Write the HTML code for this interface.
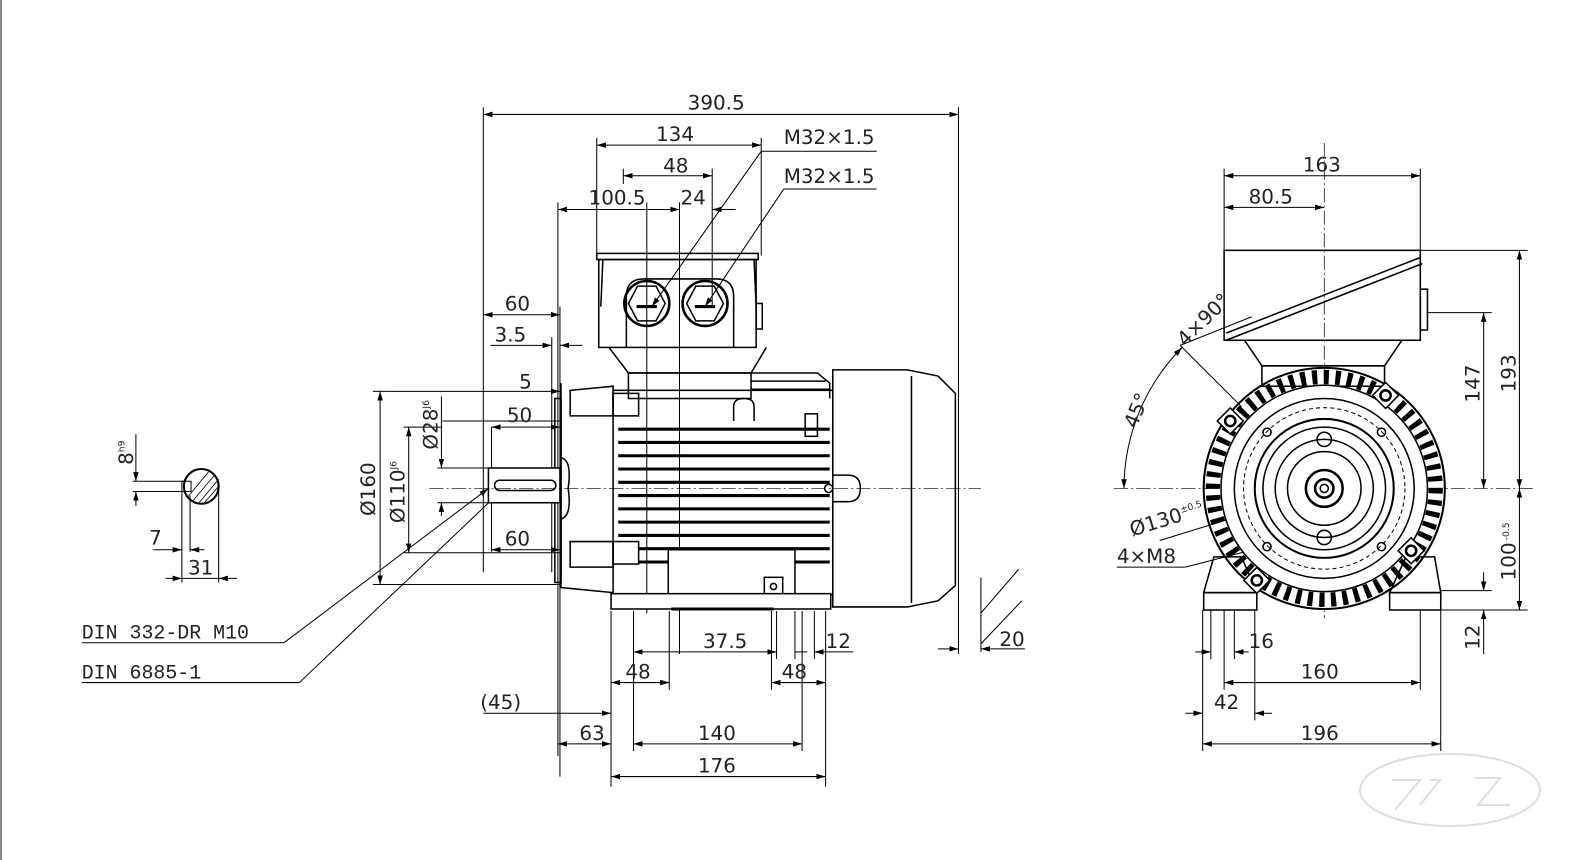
<!DOCTYPE html>
<html><head><meta charset="utf-8"><style>
html,body{margin:0;padding:0;background:#fff;}
svg{display:block}
text{font-family:"DejaVu Sans","Liberation Sans",sans-serif;font-size:19.5px;fill:#222;}
.s{font-size:9px}
</style></head><body>
<svg width="1596" height="860" viewBox="0 0 1596 860" xmlns="http://www.w3.org/2000/svg">
<defs>
<marker id="a" viewBox="0 0 10 10" refX="10" refY="5" markerWidth="9" markerHeight="9" markerUnits="userSpaceOnUse" orient="auto-start-reverse"><path d="M0,2 L10,5 L0,8 z" fill="#000"/></marker>
</defs>
<line x1="1" y1="0" x2="1" y2="860" stroke="#888" stroke-width="2"/>
<g transform="scale(1.0218)" stroke="#000" fill="none" stroke-width="1.2">
<g stroke-width="1">
<line x1="473" y1="112" x2="938" y2="112" marker-start="url(#a)" marker-end="url(#a)"/>
<line x1="473" y1="105" x2="473" y2="560"/><line x1="938" y1="105" x2="938" y2="640"/>
<line x1="584" y1="142" x2="745" y2="142" marker-start="url(#a)" marker-end="url(#a)"/>
<line x1="584" y1="135" x2="584" y2="250"/><line x1="745" y1="135" x2="745" y2="250"/>
<line x1="610" y1="172" x2="697" y2="172" marker-start="url(#a)" marker-end="url(#a)"/>
<line x1="610" y1="165" x2="610" y2="180"/><line x1="697" y1="165" x2="697" y2="300"/>
<line x1="546" y1="205" x2="665" y2="205" marker-start="url(#a)" marker-end="url(#a)"/>
<line x1="697" y1="205" x2="720" y2="205" marker-start="url(#a)"/>
<line x1="546" y1="198" x2="546" y2="740"/><line x1="633" y1="198" x2="633" y2="600"/><line x1="665" y1="198" x2="665" y2="640"/>
<text x="576" y="200" stroke="none">100.5</text><text x="666" y="200" stroke="none">24</text>
<text x="673" y="107" stroke="none">390.5</text><text x="642" y="138" stroke="none">134</text><text x="649" y="169" stroke="none">48</text>
<line x1="638" y1="300" x2="745" y2="148" marker-start="url(#a)"/><line x1="745" y1="148" x2="858" y2="148"/>
<line x1="690" y1="300" x2="767" y2="185" marker-start="url(#a)"/><line x1="767" y1="185" x2="858" y2="185"/>
<text x="767" y="141" stroke="none">M32×1.5</text><text x="767" y="179" stroke="none">M32×1.5</text>
<line x1="473" y1="308" x2="548" y2="308" marker-start="url(#a)" marker-end="url(#a)"/><text x="494" y="304" stroke="none">60</text>
<line x1="480" y1="338" x2="540" y2="338" marker-end="url(#a)"/><line x1="548" y1="338" x2="570" y2="338" marker-start="url(#a)"/><text x="484" y="334" stroke="none">3.5</text>
<line x1="540" y1="330" x2="540" y2="560"/><line x1="548" y1="300" x2="548" y2="760"/>
<line x1="380" y1="383" x2="548" y2="383" marker-end="url(#a)"/><text x="508" y="380" stroke="none">5</text>
<line x1="433" y1="412" x2="548" y2="412"/><line x1="481" y1="418" x2="548" y2="418" marker-start="url(#a)" marker-end="url(#a)"/><text x="496" y="413" stroke="none">50</text>
<line x1="481" y1="538" x2="548" y2="538" marker-start="url(#a)" marker-end="url(#a)"/><text x="494" y="534" stroke="none">60</text>
<line x1="481" y1="418" x2="481" y2="540"/>
<line x1="365" y1="383" x2="380" y2="383"/><line x1="365" y1="572" x2="548" y2="572"/><line x1="395" y1="541" x2="548" y2="541"/>
<line x1="372" y1="383" x2="372" y2="572" marker-start="url(#a)" marker-end="url(#a)"/>
<line x1="400" y1="418" x2="400" y2="541" marker-start="url(#a)" marker-end="url(#a)"/><line x1="395" y1="418" x2="433" y2="418"/>
<line x1="432" y1="388" x2="432" y2="458" marker-end="url(#a)"/><line x1="432" y1="492" x2="432" y2="505" marker-start="url(#a)"/>
<line x1="428" y1="458" x2="481" y2="458"/><line x1="428" y1="492" x2="481" y2="492"/>
<text transform="translate(367,505) rotate(-90)" stroke="none">Ø160</text>
<text transform="translate(396,512) rotate(-90)" stroke="none">Ø110<tspan class="s" dy="-8">J6</tspan></text>
<text transform="translate(428,440) rotate(-90)" stroke="none">Ø28<tspan class="s" dy="-8">J6</tspan></text>
<line x1="887" y1="362" x2="887" y2="594" marker-start="url(#a)" marker-end="url(#a)"/>
<text transform="translate(882,505) rotate(-90)" stroke="none">Ø198</text>
<line x1="80" y1="629" x2="278" y2="629"/><line x1="278" y1="629" x2="478" y2="478" marker-end="url(#a)"/>
<line x1="80" y1="668" x2="293" y2="668"/><line x1="293" y1="668" x2="493" y2="478" marker-end="url(#a)"/>
<text x="80" y="625" stroke="none" style="font-family:'Liberation Mono',monospace">DIN 332-DR M10</text>
<text x="80" y="664" stroke="none" style="font-family:'Liberation Mono',monospace">DIN 6885-1</text>
<circle cx="197" cy="476" r="17" stroke-width="2"/>
<g stroke-width="0.8"><line x1="184" y1="486" x2="204" y2="462"/><line x1="188" y1="491" x2="210" y2="465"/><line x1="194" y1="493" x2="214" y2="469"/><line x1="200" y1="492" x2="214" y2="476"/></g>
<rect x="178" y="471" width="9" height="10"/>
<line x1="133" y1="425" x2="133" y2="471" marker-end="url(#a)"/><line x1="133" y1="481" x2="133" y2="495" marker-start="url(#a)"/>
<line x1="130" y1="471" x2="180" y2="471"/><line x1="130" y1="481" x2="180" y2="481"/>
<text transform="translate(130,455) rotate(-90)" stroke="none">8<tspan class="s" dy="-8">h9</tspan></text>
<line x1="178" y1="481" x2="178" y2="570"/><line x1="186" y1="485" x2="186" y2="540"/><line x1="214" y1="480" x2="214" y2="570"/>
<line x1="150" y1="538" x2="178" y2="538" marker-end="url(#a)"/><line x1="186" y1="538" x2="200" y2="538" marker-start="url(#a)"/><text x="146" y="533" stroke="none">7</text>
<line x1="162" y1="566" x2="178" y2="566" marker-end="url(#a)"/><line x1="214" y1="566" x2="232" y2="566" marker-start="url(#a)"/><line x1="178" y1="566" x2="214" y2="566"/><text x="184" y="562" stroke="none">31</text>
<line x1="598" y1="598" x2="598" y2="770"/><line x1="620" y1="598" x2="620" y2="735"/><line x1="655" y1="598" x2="655" y2="675"/>
<line x1="760" y1="598" x2="760" y2="645"/><line x1="778" y1="598" x2="778" y2="645"/><line x1="785" y1="598" x2="785" y2="735"/><line x1="797" y1="598" x2="797" y2="645"/><line x1="808" y1="598" x2="808" y2="770"/><line x1="755" y1="598" x2="755" y2="675"/>
<line x1="620" y1="638" x2="760" y2="638" marker-start="url(#a)" marker-end="url(#a)"/><text x="688" y="634" stroke="none">37.5</text>
<line x1="778" y1="638" x2="790" y2="638"/><line x1="797" y1="638" x2="835" y2="638" marker-start="url(#a)"/><text x="808" y="634" stroke="none">12</text>
<line x1="598" y1="668" x2="655" y2="668" marker-start="url(#a)" marker-end="url(#a)"/><text x="612" y="664" stroke="none">48</text>
<line x1="755" y1="668" x2="808" y2="668" marker-start="url(#a)" marker-end="url(#a)"/><text x="765" y="664" stroke="none">48</text>
<line x1="473" y1="698" x2="598" y2="698" marker-end="url(#a)"/><text x="470" y="694" stroke="none">(45)</text>
<line x1="546" y1="728" x2="598" y2="728" marker-start="url(#a)" marker-end="url(#a)"/><text x="567" y="724" stroke="none">63</text>
<line x1="620" y1="728" x2="785" y2="728" marker-start="url(#a)" marker-end="url(#a)"/><text x="683" y="724" stroke="none">140</text>
<line x1="598" y1="760" x2="808" y2="760" marker-start="url(#a)" marker-end="url(#a)"/><text x="683" y="756" stroke="none">176</text>
<line x1="918" y1="635" x2="938" y2="635" marker-end="url(#a)"/><line x1="960" y1="635" x2="1003" y2="635" marker-start="url(#a)"/><text x="978" y="632" stroke="none">20</text>
<line x1="960" y1="565" x2="960" y2="638"/><line x1="960" y1="600" x2="997" y2="557"/><line x1="960" y1="630" x2="1000" y2="588"/>
</g>
<g stroke-width="1.5">
<rect x="584" y="248" width="158" height="6"/><rect x="586" y="254" width="154" height="86"/>
<line x1="590" y1="254" x2="588" y2="300"/><line x1="738" y1="254" x2="740" y2="300"/>
<rect x="740" y="297" width="6" height="25"/>
<path d="M613 340 V290 Q613 273 630 273 H701 Q718 273 718 290 V340"/>
<circle cx="633" cy="297" r="22" stroke-width="2.5"/><circle cx="690" cy="297" r="22" stroke-width="2.5"/>
<path d="M615 297 L624 280 H642 L651 297 L642 314 H624 Z"/><path d="M672 297 L681 280 H699 L708 297 L699 314 H681 Z"/>
<line x1="623" y1="300" x2="643" y2="300" stroke-width="3"/><line x1="680" y1="300" x2="700" y2="300" stroke-width="3"/>
<path d="M596 340 L615 365 H735 L750 340"/>
<rect x="615" y="365" width="120" height="25"/>
<rect x="600" y="382" width="215" height="200"/>
<path d="M735 365 H800 L812 375 V390"/><line x1="735" y1="373" x2="808" y2="373"/><line x1="735" y1="381" x2="812" y2="381"/>
<path d="M718 412 V398 Q718 390 728 390 Q738 390 738 398 V412" />
<rect x="600" y="385" width="25" height="22"/><path d="M558 382 L600 378 V407 L558 407 Z"/>
<rect x="600" y="530" width="25" height="22"/><path d="M558 530 L600 530 V555 L558 555 Z"/>
<rect x="543" y="390" width="6" height="180"/>
<path d="M549 375 V575 L600 580"/>
<path d="M549 448 Q560 450 556 478 Q560 505 549 508"/>
<rect x="788" y="405" width="12" height="22"/>
</g>
<g stroke-width="3">
<line x1="605" y1="420" x2="812" y2="420"/><line x1="605" y1="433" x2="812" y2="433"/><line x1="605" y1="446" x2="812" y2="446"/><line x1="605" y1="459" x2="812" y2="459"/><line x1="605" y1="472" x2="812" y2="472"/><line x1="605" y1="485" x2="812" y2="485"/><line x1="605" y1="498" x2="812" y2="498"/><line x1="605" y1="511" x2="812" y2="511"/><line x1="605" y1="524" x2="812" y2="524"/><line x1="625" y1="537" x2="812" y2="537"/><line x1="625" y1="550" x2="812" y2="550"/>
</g>
<g stroke-width="1.5">
<rect x="654" y="538" width="124" height="45" fill="#fff"/>
<rect x="748" y="565" width="18" height="17"/><circle cx="757" cy="574" r="3"/>
<rect x="598" y="581" width="215" height="15" fill="#fff"/>
<line x1="657" y1="596" x2="757" y2="596" stroke-width="3"/>
<path d="M815 362 H888 L918 368 L935 385 V573 L918 588 L888 594 H815 Z" fill="#fff"/>
<line x1="892" y1="368" x2="892" y2="590"/>
<path d="M815 465 H830 Q842 465 842 478 Q842 491 830 491 H815"/>
<circle cx="811" cy="478" r="4"/>
<rect x="478" y="458" width="70" height="34" fill="#fff"/>
<rect x="484" y="470" width="60" height="10" rx="5"/>
</g>
<g stroke-width="0.7" stroke-dasharray="14 3 2 3">
<line x1="420" y1="478" x2="960" y2="478"/><line x1="1090" y1="478" x2="1500" y2="478"/><line x1="1296" y1="140" x2="1296" y2="605"/>
</g>
<g stroke-width="1">
<line x1="1198" y1="172" x2="1390" y2="172" marker-start="url(#a)" marker-end="url(#a)"/><text x="1275" y="168" stroke="none">163</text>
<line x1="1198" y1="203" x2="1296" y2="203" marker-start="url(#a)" marker-end="url(#a)"/><text x="1222" y="199" stroke="none">80.5</text>
<line x1="1198" y1="165" x2="1198" y2="245"/><line x1="1390" y1="165" x2="1390" y2="245"/>
<line x1="1390" y1="245" x2="1495" y2="245"/><line x1="1396" y1="306" x2="1460" y2="306"/>
<line x1="1452" y1="306" x2="1452" y2="478" marker-start="url(#a)" marker-end="url(#a)"/>
<line x1="1487" y1="245" x2="1487" y2="478" marker-start="url(#a)" marker-end="url(#a)"/>
<line x1="1487" y1="478" x2="1487" y2="597" marker-start="url(#a)" marker-end="url(#a)"/>
<line x1="1410" y1="597" x2="1495" y2="597"/><line x1="1410" y1="578" x2="1460" y2="578"/>
<line x1="1452" y1="560" x2="1452" y2="578" marker-end="url(#a)"/><line x1="1452" y1="597" x2="1452" y2="640" marker-start="url(#a)"/>
<text transform="translate(1448,394) rotate(-90)" stroke="none">147</text>
<text transform="translate(1483,384) rotate(-90)" stroke="none">193</text>
<text transform="translate(1483,568) rotate(-90)" stroke="none">100<tspan class="s" dy="-6" dx="2">-0.5</tspan></text>
<text transform="translate(1448,636) rotate(-90)" stroke="none">12</text>
<line x1="1177" y1="597" x2="1177" y2="735"/><line x1="1185" y1="597" x2="1185" y2="645"/><line x1="1198" y1="597" x2="1198" y2="675"/><line x1="1208" y1="597" x2="1208" y2="645"/><line x1="1228" y1="597" x2="1228" y2="705"/><line x1="1390" y1="597" x2="1390" y2="675"/><line x1="1410" y1="597" x2="1410" y2="735"/>
<line x1="1170" y1="638" x2="1185" y2="638" marker-end="url(#a)"/><line x1="1208" y1="638" x2="1222" y2="638" marker-start="url(#a)"/><text x="1222" y="634" stroke="none">16</text>
<line x1="1198" y1="668" x2="1390" y2="668" marker-start="url(#a)" marker-end="url(#a)"/><text x="1273" y="664" stroke="none">160</text>
<line x1="1160" y1="698" x2="1177" y2="698" marker-end="url(#a)"/><line x1="1228" y1="698" x2="1245" y2="698" marker-start="url(#a)"/><text x="1188" y="694" stroke="none">42</text>
<line x1="1177" y1="728" x2="1410" y2="728" marker-start="url(#a)" marker-end="url(#a)"/><text x="1273" y="724" stroke="none">196</text>
<path d="M1100 478 A196 196 0 0 1 1157 340" marker-start="url(#a)" marker-end="url(#a)"/>
<line x1="1155" y1="338" x2="1215" y2="398"/><line x1="1155" y1="338" x2="1225" y2="310"/>
<text transform="translate(1112,420) rotate(-68)" stroke="none">45°</text>
<text transform="translate(1160,340) rotate(-45)" stroke="none">4×90°</text>
<line x1="1135" y1="529" x2="1365" y2="458" marker-end="url(#a)"/><line x1="1230" y1="500" x2="1255" y2="492" marker-end="url(#a)"/>
<text transform="translate(1108,525) rotate(-17)" stroke="none">Ø130<tspan class="s" dy="-8">±0.5</tspan></text>
<line x1="1093" y1="555" x2="1160" y2="555"/><line x1="1160" y1="555" x2="1238" y2="535" marker-end="url(#a)"/>
<text x="1093" y="551" stroke="none">4×M8</text>
</g>
<g stroke-width="1.5">
<rect x="1198" y="245" width="192" height="88"/>
<path d="M1200 326 L1390 252 M1200 333 L1392 258"/>
<rect x="1390" y="283" width="7" height="40"/>
<path d="M1218 333 L1235 358 H1355 L1372 333"/>
<rect x="1235" y="358" width="120" height="20"/>
<path d="M1188 545 L1178 580 H1230 L1215 545 Z"/><path d="M1404 545 L1410 580 H1360 L1376 545 Z"/>
<rect x="1178" y="580" width="52" height="17"/><rect x="1360" y="580" width="50" height="17"/>
<circle cx="1296" cy="478" r="118" stroke-width="2"/>
<circle cx="1296" cy="478" r="100" stroke-width="2"/>
</g>
<circle cx="1296" cy="478" r="109" stroke="#000" stroke-width="14" stroke-dasharray="5 6.4"/>
<g stroke-width="1.5">
<circle cx="1296" cy="478" r="101" fill="#fff"/>
<circle cx="1296" cy="478" r="88"/>
<circle cx="1296" cy="478" r="79" stroke-dasharray="4 3" stroke-width="1"/>
<circle cx="1296" cy="478" r="68" stroke-width="2"/>
<circle cx="1296" cy="478" r="60"/>
<circle cx="1296" cy="478" r="48"/>
<circle cx="1296" cy="478" r="36"/>
<circle cx="1296" cy="478" r="18" stroke-width="2.5"/>
<circle cx="1296" cy="478" r="9" stroke-width="2.5"/>
<circle cx="1296" cy="478" r="4"/>
<circle cx="1296" cy="430" r="7"/><circle cx="1296" cy="526" r="7"/>
<circle cx="1240" cy="423" r="4"/><circle cx="1352" cy="423" r="4"/><circle cx="1240" cy="535" r="4"/><circle cx="1352" cy="535" r="4"/>
<g fill="#fff"><rect x="1195" y="403" width="18" height="18" transform="rotate(45 1204 412)"/><rect x="1347" y="378" width="18" height="18" transform="rotate(45 1356 387)"/><rect x="1372" y="530" width="18" height="18" transform="rotate(45 1381 539)"/><rect x="1221" y="559" width="18" height="18" transform="rotate(45 1230 568)"/></g>
<circle cx="1204" cy="412" r="5" stroke-width="2.5"/><circle cx="1356" cy="387" r="5" stroke-width="2.5"/><circle cx="1381" cy="539" r="5" stroke-width="2.5"/><circle cx="1230" cy="568" r="5" stroke-width="2.5"/>
</g>
</g>
<g fill="none" stroke="#ddd" stroke-width="2">
<ellipse cx="1450" cy="790" rx="90" ry="36"/>
<path d="M1392 780 H1420 L1395 810 M1430 780 H1440 L1420 805 M1475 778 H1500 L1478 805 H1510"/>
</g>
</svg>
</body></html>
